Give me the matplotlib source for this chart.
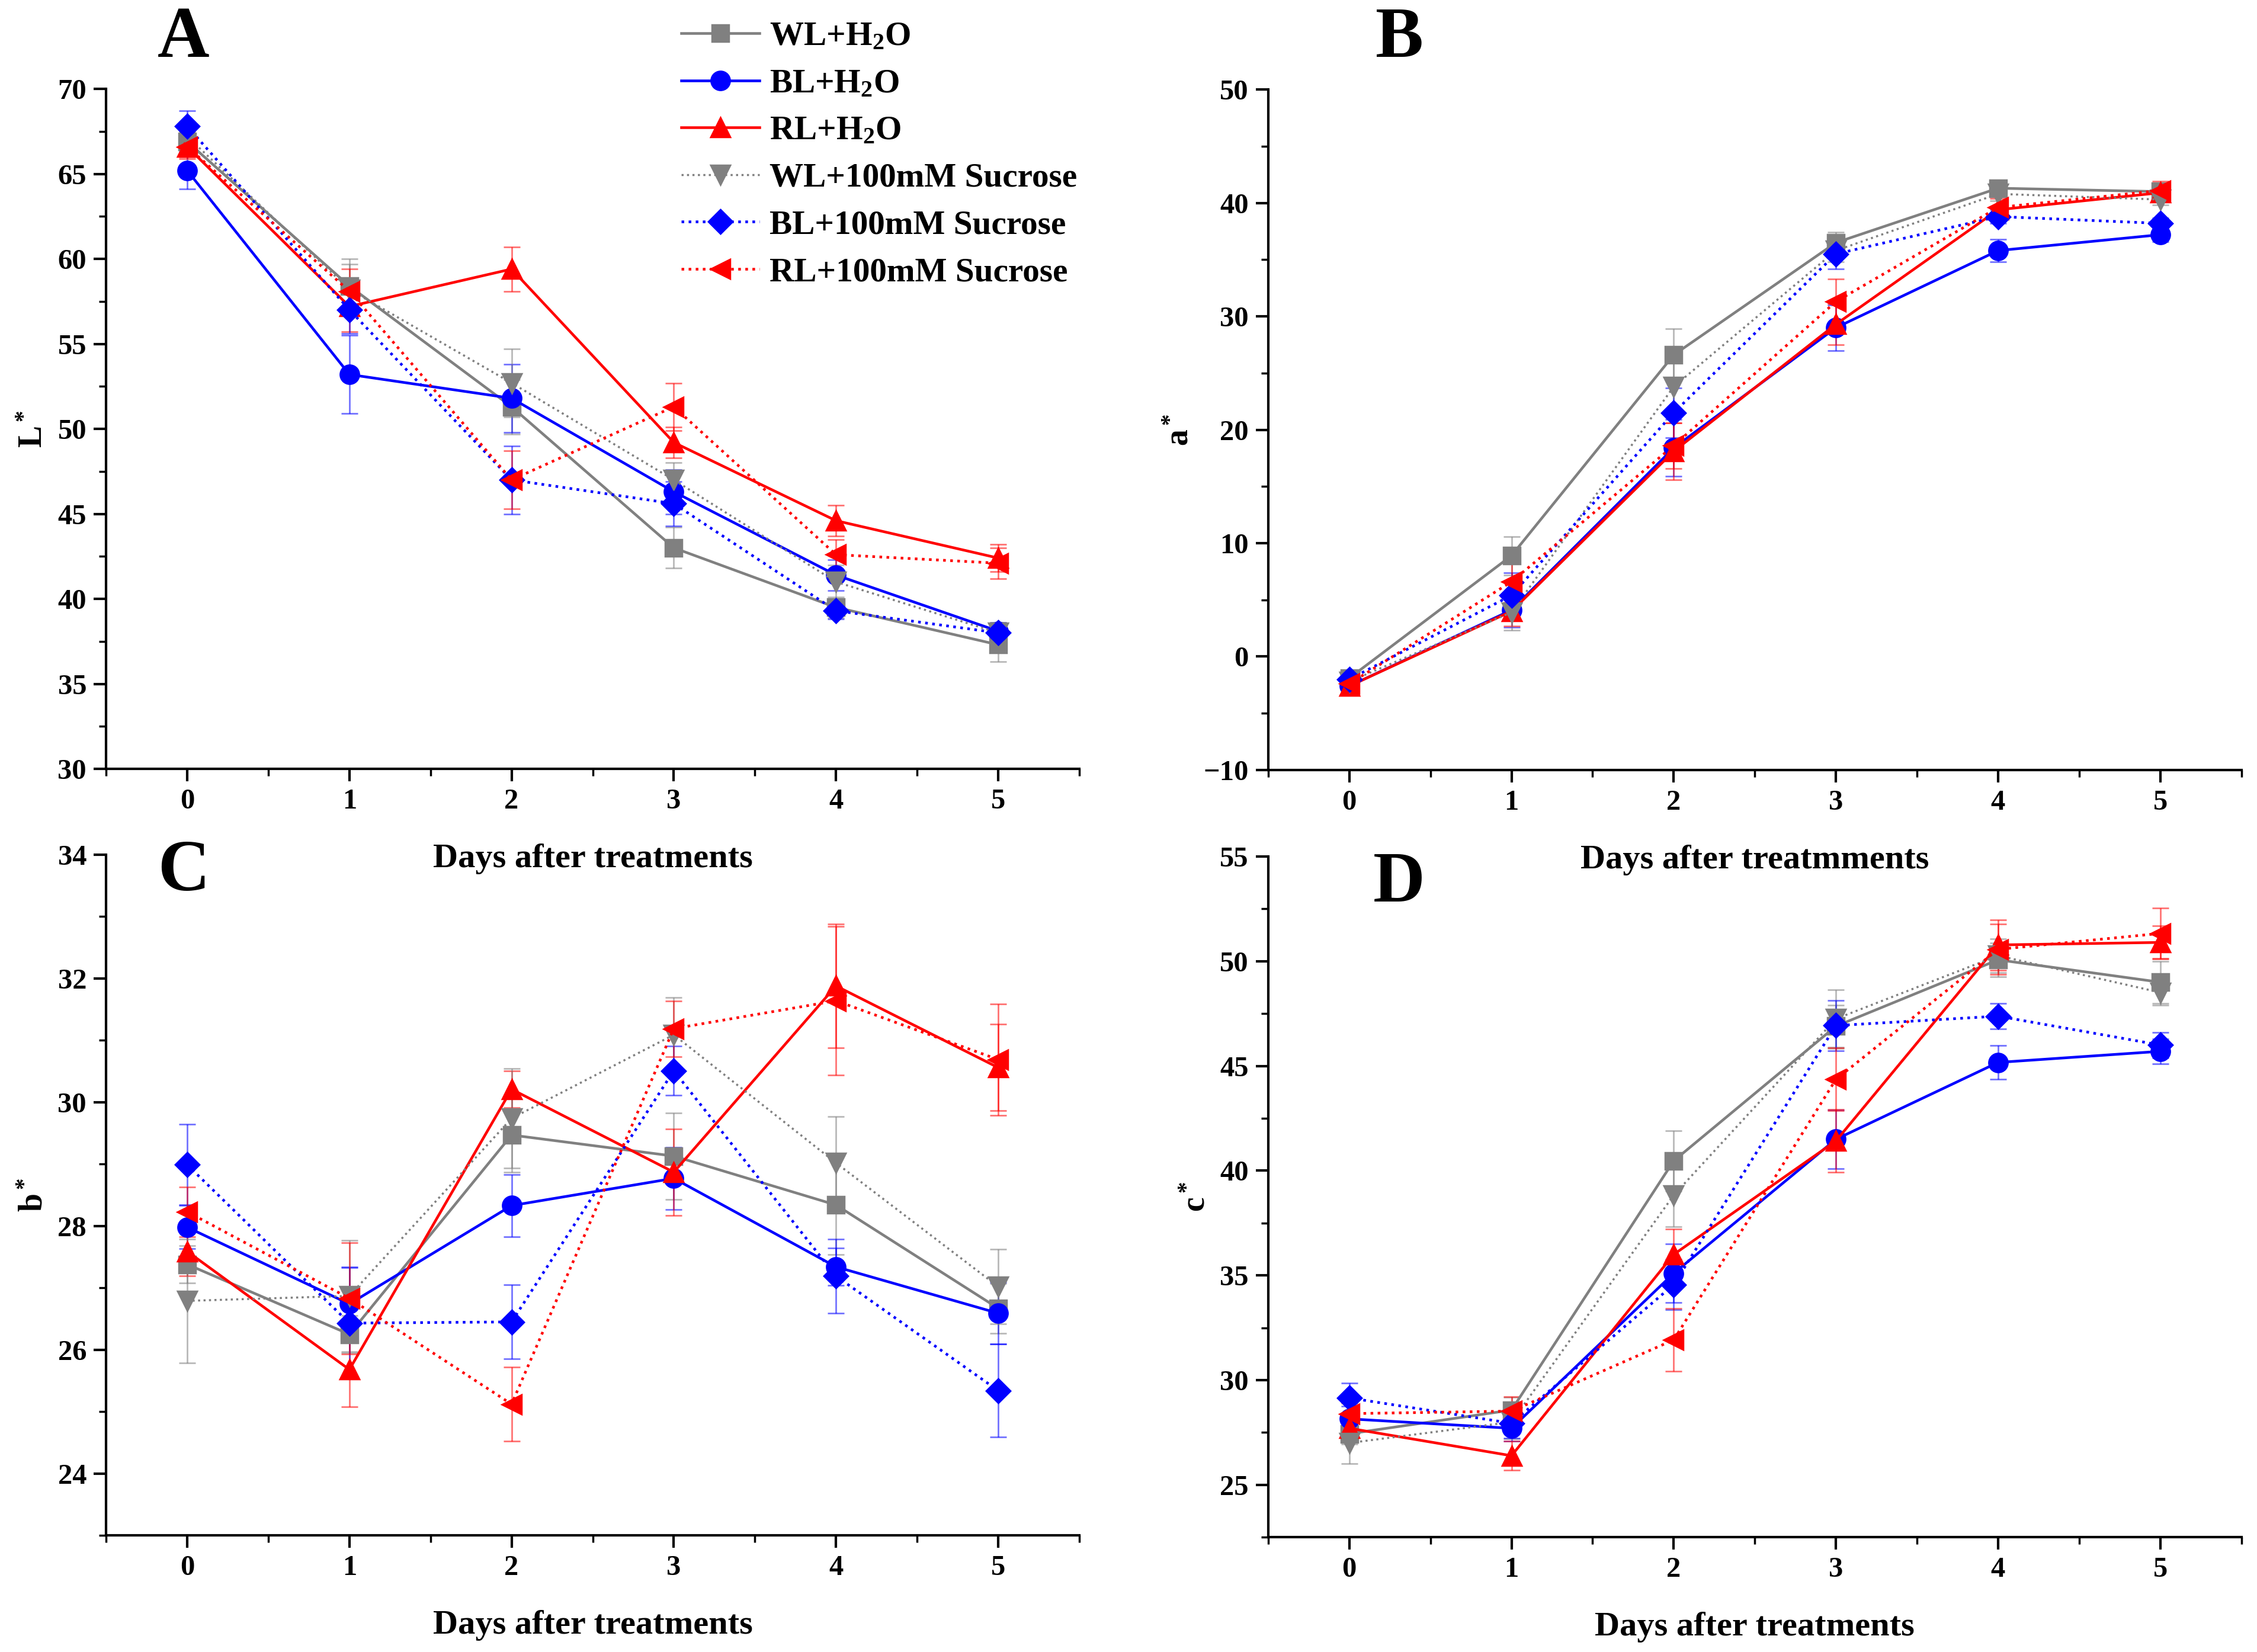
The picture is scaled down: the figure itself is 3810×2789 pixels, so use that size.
import matplotlib
matplotlib.use('Agg')
import matplotlib.pyplot as plt
from matplotlib.ticker import MultipleLocator

plt.rcParams['font.family'] = 'Liberation Serif'
plt.rcParams['font.weight'] = 'bold'
plt.rcParams['mathtext.fontset'] = 'custom'
plt.rcParams['mathtext.rm'] = 'Liberation Serif:bold'
plt.rcParams['mathtext.it'] = 'Liberation Serif:bold'
plt.rcParams['mathtext.bf'] = 'Liberation Serif:bold'

# Datos
days = [0, 1, 2, 3, 4, 5]
labels = ['WL+H$_2$O', 'BL+H$_2$O', 'RL+H$_2$O',
          'WL+100mM Sucrose', 'BL+100mM Sucrose', 'RL+100mM Sucrose']

# A: L*
L_wl_h2o = [66.9, 58.4, 51.3, 43.0, 39.5, 37.3]
L_wl_h2o_err = [0.5, 1.6, 1.6, 1.2, 0.6, 1.0]
L_bl_h2o = [65.2, 53.2, 51.8, 46.3, 41.4, 38.1]
L_bl_h2o_err = [1.1, 2.3, 2.0, 1.3, 0.9, 0.5]
L_rl_h2o = [66.6, 57.2, 59.4, 49.2, 44.6, 42.4]
L_rl_h2o_err = [0.7, 1.5, 1.3, 0.9, 0.9, 0.8]
L_wl_suc = [67.2, 58.2, 52.7, 47.0, 41.0, 38.0]
L_wl_suc_err = [0.6, 1.5, 2.0, 1.0, 1.0, 0.6]
L_bl_suc = [67.8, 57.0, 47.0, 45.6, 39.3, 38.0]
L_bl_suc_err = [0.9, 1.4, 2.0, 1.3, 0.5, 0.5]
L_rl_suc = [66.6, 58.1, 47.0, 51.3, 42.6, 42.1]
L_rl_suc_err = [0.6, 1.3, 1.7, 1.4, 0.9, 0.9]

# B: a*
a_wl_h2o = [-1.9, 8.9, 26.6, 36.5, 41.3, 41.0]
a_wl_h2o_err = [0.4, 1.7, 2.3, 0.9, 0.5, 0.5]
a_bl_h2o = [-2.6, 4.1, 18.4, 29.0, 35.8, 37.2]
a_bl_h2o_err = [0.5, 1.5, 2.5, 2.0, 1.0, 0.6]
a_rl_h2o = [-2.6, 4.0, 18.1, 29.3, 39.4, 40.9]
a_rl_h2o_err = [0.4, 1.3, 2.5, 1.8, 1.0, 0.8]
a_wl_suc = [-2.2, 3.9, 23.8, 35.8, 40.8, 40.3]
a_wl_suc_err = [0.4, 1.6, 2.3, 1.0, 0.6, 0.5]
a_bl_suc = [-2.0, 5.4, 21.5, 35.5, 38.8, 38.2]
a_bl_suc_err = [0.5, 2.0, 2.2, 1.3, 0.6, 0.5]
a_rl_suc = [-2.4, 6.6, 18.6, 31.3, 39.6, 41.1]
a_rl_suc_err = [0.4, 1.8, 2.0, 2.0, 1.0, 0.8]

# C: b*
b_wl_h2o = [27.38, 26.25, 29.47, 29.13, 28.34, 26.67]
b_wl_h2o_err = [0.3, 0.3, 0.6, 0.7, 0.8, 0.4]
b_bl_h2o = [27.98, 26.74, 28.33, 28.77, 27.34, 26.59]
b_bl_h2o_err = [0.35, 0.6, 0.5, 0.5, 0.3, 0.5]
b_rl_h2o = [27.59, 25.68, 30.21, 28.87, 31.88, 30.56]
b_rl_h2o_err = [0.4, 0.6, 0.3, 0.7, 1.0, 0.7]
b_wl_suc = [26.79, 26.87, 29.74, 31.09, 29.02, 27.02]
b_wl_suc_err = [1.0, 0.9, 0.8, 0.6, 0.75, 0.6]
b_bl_suc = [28.99, 26.43, 26.45, 30.51, 27.19, 25.34]
b_bl_suc_err = [0.65, 0.9, 0.6, 0.4, 0.6, 0.75]
b_rl_suc = [28.23, 26.83, 25.12, 31.19, 31.64, 30.69]
b_rl_suc_err = [0.4, 0.9, 0.6, 0.45, 1.2, 0.9]

# D: c*
c_wl_h2o = [27.44, 28.57, 40.47, 46.9, 50.07, 49.0]
c_wl_h2o_err = [0.5, 0.6, 1.45, 1.0, 0.8, 1.0]
c_bl_h2o = [28.15, 27.7, 35.1, 41.5, 45.17, 45.7]
c_bl_h2o_err = [0.6, 0.6, 1.4, 1.4, 0.8, 0.6]
c_rl_h2o = [27.7, 26.39, 36.0, 41.42, 50.78, 50.9]
c_rl_h2o_err = [0.5, 0.7, 1.2, 1.5, 1.2, 0.8]
c_wl_suc = [27.0, 28.0, 38.83, 47.25, 50.27, 48.51]
c_wl_suc_err = [1.0, 0.8, 1.5, 1.4, 0.8, 0.6]
c_bl_suc = [29.15, 27.94, 34.56, 46.93, 47.38, 46.0]
c_bl_suc_err = [0.7, 0.7, 1.2, 1.2, 0.6, 0.6]
c_rl_suc = [28.4, 28.52, 31.92, 44.36, 50.57, 51.33]
c_rl_suc_err = [0.5, 0.7, 1.5, 1.5, 1.2, 1.2]

panels = [
    ('A', 'L$^*$', 'Days after treatments', (30, 70), 5,
     [L_wl_h2o, L_bl_h2o, L_rl_h2o, L_wl_suc, L_bl_suc, L_rl_suc],
     [L_wl_h2o_err, L_bl_h2o_err, L_rl_h2o_err, L_wl_suc_err, L_bl_suc_err, L_rl_suc_err]),
    ('B', 'a$^*$', 'Days after treatmments', (-10, 50), 10,
     [a_wl_h2o, a_bl_h2o, a_rl_h2o, a_wl_suc, a_bl_suc, a_rl_suc],
     [a_wl_h2o_err, a_bl_h2o_err, a_rl_h2o_err, a_wl_suc_err, a_bl_suc_err, a_rl_suc_err]),
    ('C', 'b$^*$', 'Days after treatments', (23, 34), 2,
     [b_wl_h2o, b_bl_h2o, b_rl_h2o, b_wl_suc, b_bl_suc, b_rl_suc],
     [b_wl_h2o_err, b_bl_h2o_err, b_rl_h2o_err, b_wl_suc_err, b_bl_suc_err, b_rl_suc_err]),
    ('D', 'c$^*$', 'Days after treatments', (22.5, 55), 5,
     [c_wl_h2o, c_bl_h2o, c_rl_h2o, c_wl_suc, c_bl_suc, c_rl_suc],
     [c_wl_h2o_err, c_bl_h2o_err, c_rl_h2o_err, c_wl_suc_err, c_bl_suc_err, c_rl_suc_err]),
]

colores = ['#808080', '#0000FF', '#FF0000', '#808080', '#0000FF', '#FF0000']
marcadores = ['s', 'o', '^', 'v', 'D', '<']
estilos = ['-', '-', '-', ':', ':', ':']
tam_marcador = [8, 9, 9, 9, 8, 9]

fig = plt.figure(figsize=(15.24, 11.156), dpi=250)
posiciones = [
    [0.047, 0.5346, 0.4312, 0.4116],
    [0.5619, 0.5339, 0.4312, 0.4119],
    [0.047, 0.0706, 0.4312, 0.412],
    [0.5619, 0.0695, 0.4312, 0.412],
]
letra_pos = [(310, 66), (2362, 66), (310, 1474), (2362, 1492)]

handles = []
for k, (letra, ylab, xlab, ylim, paso, series, errores) in enumerate(panels):
    ax = fig.add_axes(posiciones[k])
    ax.patch.set_visible(False)
    for i in range(6):
        lw = 1.0 if i == 3 else 1.3
        eb = ax.errorbar(days, series[i], yerr=errores[i], color=colores[i],
                         marker=marcadores[i], linestyle=estilos[i], linewidth=lw,
                         markersize=tam_marcador[i], ecolor=colores[i],
                         elinewidth=0.8, capsize=4, capthick=0.8, label=labels[i])
        for c in eb[1]:
            c.set_alpha(0.55)
        for c in eb[2]:
            c.set_alpha(0.55)
        if k == 0:
            handles.append(eb[0])
    ax.set_xlim(-0.5, 5.5)
    ax.set_ylim(*ylim)
    ax.xaxis.set_major_locator(MultipleLocator(1))
    ax.xaxis.set_minor_locator(MultipleLocator(0.5))
    ax.yaxis.set_major_locator(MultipleLocator(paso))
    ax.yaxis.set_minor_locator(MultipleLocator(paso / 2))
    ax.spines['top'].set_visible(False)
    ax.spines['right'].set_visible(False)
    for s in ['left', 'bottom']:
        ax.spines[s].set_linewidth(1.2)
    ax.tick_params(which='major', direction='out', length=6, width=1.2, labelsize=14)
    ax.tick_params(which='minor', direction='out', length=3.5, width=1.0)
    ax.set_xlabel(xlab, fontsize=16.8, fontweight='bold', labelpad=14)
    ax.set_ylabel(ylab, fontsize=16, fontweight='bold', labelpad=4)
    fig.text(letra_pos[k][0] / 3810, 1 - letra_pos[k][1] / 2789, letra,
             fontsize=35, fontweight='bold', ha='center', va='center')

leg = fig.legend(handles=handles, labels=labels, loc='upper left',
                 bbox_to_anchor=(1150 / 3810, 1 - 36 / 2789), frameon=False,
                 fontsize=16.5, handlelength=2.3, handletextpad=0.3,
                 labelspacing=0.48, borderpad=0, borderaxespad=0)

fig.savefig('out.png', dpi=250)
